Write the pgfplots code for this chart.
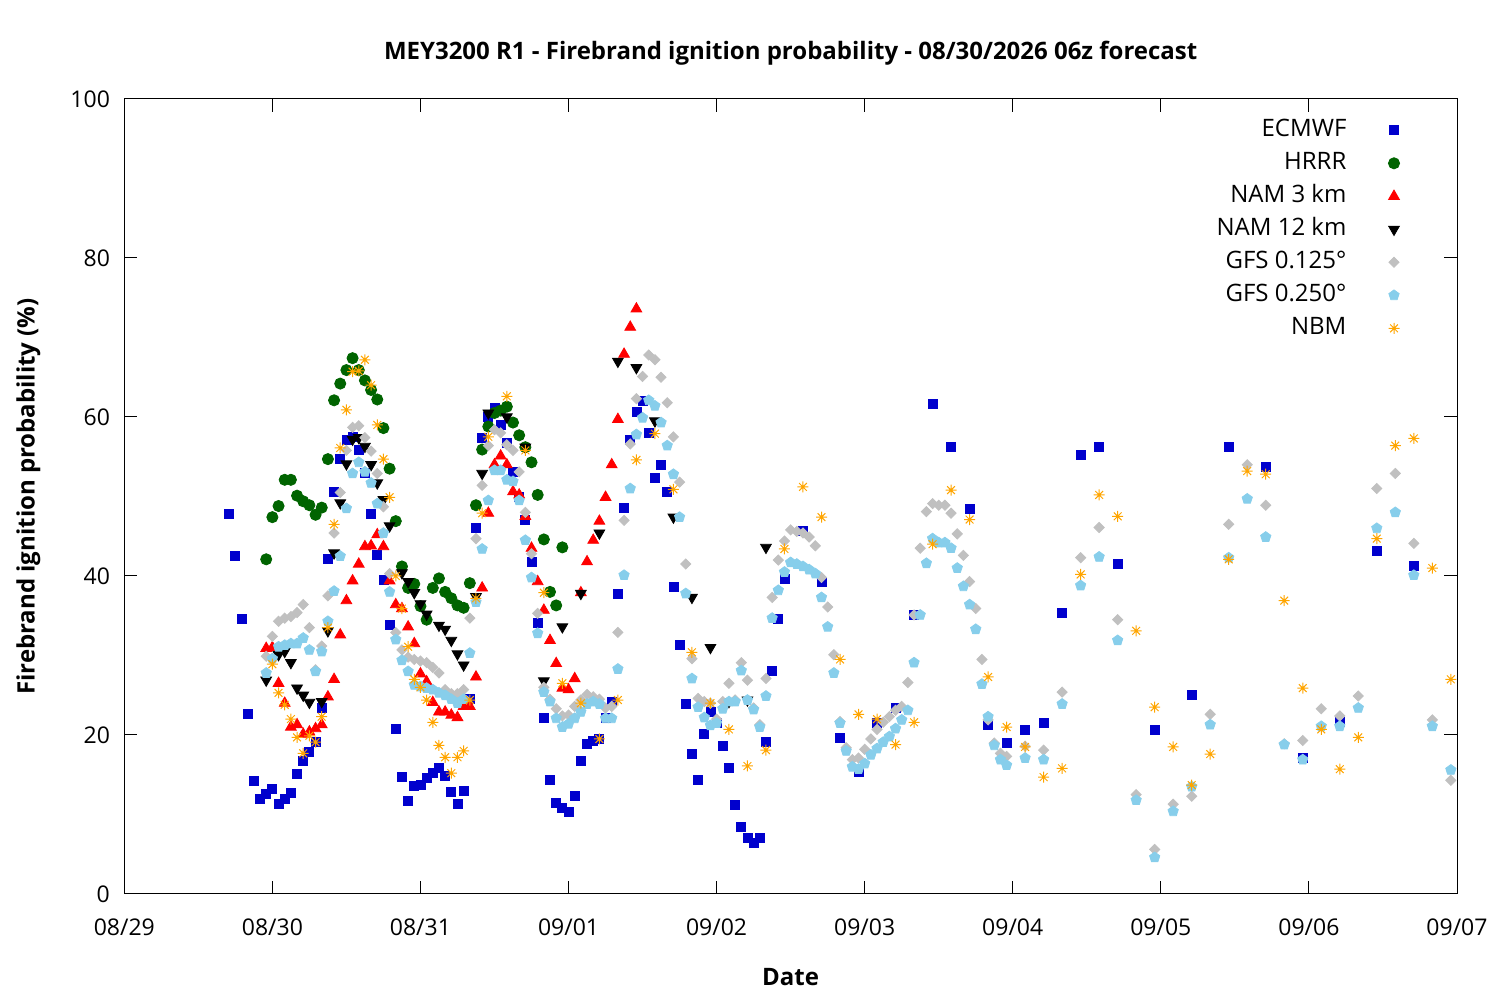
\documentclass[border=0pt]{standalone}
\usepackage{pgfplots}
\pgfplotsset{compat=1.18}
\usepackage{fontspec}
\setmainfont{Open Sans}
\definecolor{ecblue}{RGB}{0,0,205}
\definecolor{hrgreen}{RGB}{0,100,0}
\definecolor{gfsgrey}{RGB}{192,192,192}
\definecolor{gfsblue}{RGB}{135,206,235}
\definecolor{nbmorange}{RGB}{255,165,0}
\pgfdeclareplotmark{gpstar}{%
  \pgfpathmoveto{\pgfqpoint{-\pgfplotmarksize}{0pt}}\pgfpathlineto{\pgfqpoint{\pgfplotmarksize}{0pt}}%
  \pgfpathmoveto{\pgfqpoint{0pt}{-\pgfplotmarksize}}\pgfpathlineto{\pgfqpoint{0pt}{\pgfplotmarksize}}%
  \pgfpathmoveto{\pgfqpoint{-0.7071\pgfplotmarksize}{-0.7071\pgfplotmarksize}}\pgfpathlineto{\pgfqpoint{0.7071\pgfplotmarksize}{0.7071\pgfplotmarksize}}%
  \pgfpathmoveto{\pgfqpoint{-0.7071\pgfplotmarksize}{0.7071\pgfplotmarksize}}\pgfpathlineto{\pgfqpoint{0.7071\pgfplotmarksize}{-0.7071\pgfplotmarksize}}%
  \pgfusepathqstroke}
\begin{document}
\fontsize{11.5pt}{13pt}\selectfont
\begin{tikzpicture}[font=\fontsize{11.5pt}{13pt}\selectfont]
\path[use as bounding box] (-62.15pt,-53pt) rectangle (687.85pt,447pt);
\begin{axis}[
  scale only axis, width=666.35pt, height=397.5pt,
  xmin=0, xmax=216, ymin=0, ymax=100,
  xtick={0,24,48,72,96,120,144,168,192,216},
  xticklabels={08/29,08/30,08/31,09/01,09/02,09/03,09/04,09/05,09/06,09/07},
  ytick={0,20,40,60,80,100},
  tick align=inside, major tick length=6.5pt,
  axis line style={line width=0.5pt},
  tick style={line width=0.5pt, black},
  /pgf/number format/assume math mode=true,
  yticklabel style={anchor=east, inner sep=0pt, xshift=-7pt},
  xticklabel style={anchor=base, inner sep=0pt, yshift=-21pt},
  title={MEY3200 R1 - Firebrand ignition probability - 08/30/2026 06z forecast},
  title style={font=\fontsize{12pt}{14pt}\selectfont\bfseries, at={(axis description cs:0.5,1.0616)}, anchor=center, yshift=-7.5pt},
  xlabel={Date},
  xlabel style={font=\fontsize{12pt}{14pt}\selectfont\bfseries, at={(axis description cs:0.5,-0.1044)}, anchor=center, yshift=0pt},
  ylabel={Firebrand ignition probability (\%)},
  ylabel style={font=\fontsize{12pt}{14pt}\selectfont\bfseries, at={(axis description cs:-0.072,0.5)}, anchor=center, xshift=0pt, yshift=0pt},
  legend plot pos=right,
  legend cell align=right,
  legend style={draw=none, fill=none, inner sep=0pt, at={(axis description cs:1,1)}, anchor=north east, xshift=-28.5pt, yshift=-10.2pt,
    font=\fontsize{12pt}{14pt}\selectfont,
    nodes={text height=8.5pt, text depth=2pt, inner sep=0pt}, row sep=6pt,
    /tikz/every odd column/.append style={column sep=21pt}},
]
\addplot[only marks, mark=square*, mark size=2.25pt, color=ecblue] table {
x y
17 47.8
18 42.5
19 34.6
20 22.6
21 14.2
22 11.9
23 12.6
24 13.2
25 11.3
26 11.9
27 12.7
28 15.1
29 16.8
30 17.9
31 19.1
32 23.4
33 42.1
34 50.6
35 54.7
36 57.1
37 57.5
38 55.9
39 53.0
40 47.8
41 42.6
42 39.5
43 33.9
44 20.8
45 14.7
46 11.7
47 13.6
48 13.7
49 14.6
50 15.2
51 15.8
52 14.8
53 12.8
54 11.3
55 13.0
56 24.5
57 46.0
58 57.4
59 60.0
60 61.1
61 59.0
62 56.8
63 53.1
64 50.0
65 47.0
66 41.8
67 34.1
68 22.2
69 14.3
70 11.4
71 10.8
72 10.3
73 12.3
74 16.8
75 18.9
76 19.2
77 19.5
78 22.1
79 24.2
80 37.8
81 48.6
82 57.1
83 60.7
84 62.0
85 58.0
86 52.4
87 54.0
88 50.6
89 38.6
90 31.3
91 23.9
92 17.6
93 14.4
94 20.2
95 22.9
96 21.5
97 18.6
98 15.8
99 11.2
100 8.5
101 7.0
102 6.4
103 7.1
104 19.1
105 28.1
106 34.6
107 39.6
110 45.7
113 39.3
116 19.6
119 15.4
122 21.5
125 23.4
128 35.1
131 61.7
134 56.3
137 48.4
140 21.3
143 19.0
146 20.6
149 21.5
152 35.3
155 55.2
158 56.2
161 41.5
167 20.7
173 25.1
179 56.3
185 53.7
191 17.1
197 21.7
203 43.1
209 41.3
};
\addlegendentry{ECMWF}
\addplot[only marks, mark=*, mark size=2.8pt, color=hrgreen] table {
x y
23 42.1
24 47.4
25 48.8
26 52.1
27 52.1
28 50.1
29 49.4
30 48.9
31 47.7
32 48.6
33 54.7
34 62.1
35 64.2
36 65.9
37 67.4
38 65.9
39 64.6
40 63.4
41 62.2
42 58.6
43 53.5
44 46.9
45 41.2
46 38.5
47 39.0
48 36.2
49 34.5
50 38.5
51 39.7
52 38.0
53 37.2
54 36.3
55 36.0
56 39.1
57 48.9
58 55.9
59 58.8
60 60.5
61 60.8
62 61.3
63 59.3
64 57.7
65 56.2
66 54.3
67 50.2
68 44.6
69 38.0
70 36.3
71 43.6
};
\addlegendentry{HRRR}
\addplot[only marks, mark=triangle*, mark size=3.1pt, color=red] table {
x y
23 30.9
24 31.0
25 26.5
26 24.0
27 21.0
28 21.3
29 20.1
30 20.4
31 20.8
32 21.3
33 24.8
34 27.0
35 32.6
36 36.9
37 39.4
38 41.5
39 43.7
40 43.8
41 45.2
42 43.7
43 39.4
44 36.4
45 35.9
46 33.6
47 31.5
48 27.7
49 26.7
50 24.1
51 22.9
52 22.9
53 22.5
54 22.2
55 23.6
56 23.6
57 27.3
58 38.5
59 47.9
60 54.0
61 55.1
62 54.0
63 50.6
64 50.2
65 47.5
66 43.5
67 39.3
68 35.7
69 31.9
70 29.0
71 25.9
72 25.7
73 27.1
74 37.9
75 41.8
76 44.5
77 46.9
78 49.9
79 54.0
80 59.7
81 67.9
82 71.3
83 73.6
};
\addlegendentry{NAM 3 km}
\addplot[only marks, mark=triangle*, mark options={rotate=180}, mark size=3.1pt, color=black] table {
x y
23 26.9
25 30.1
26 30.5
27 29.1
28 25.9
29 25.0
30 24.1
32 24.2
33 33.1
34 42.9
35 49.2
36 54.1
37 57.2
38 57.4
39 56.3
40 54.0
41 51.7
42 49.6
43 46.3
45 40.4
46 39.3
47 37.9
48 36.5
49 35.2
51 33.8
52 33.3
53 31.9
54 30.2
55 28.8
57 37.4
58 52.9
59 60.5
62 60.0
65 56.2
68 26.8
71 33.6
74 37.8
77 45.4
80 67.0
83 66.2
86 59.5
89 47.4
92 37.3
95 31.0
98 24.2
101 24.4
104 43.6
};
\addlegendentry{NAM 12 km}
\addplot[only marks, mark=square*, mark options={rotate=45}, mark size=1.8pt, color=gfsgrey] table {
x y
23 29.9
24 32.4
25 34.3
26 34.7
27 34.9
28 35.4
29 36.4
30 33.5
31 28.2
32 31.2
33 37.5
34 45.4
35 50.5
36 55.8
37 58.7
38 58.9
39 57.4
40 55.7
41 52.9
42 48.7
43 40.3
44 32.9
45 30.7
46 29.8
47 29.5
48 29.3
49 29.1
50 28.5
51 27.8
52 25.7
53 25.2
54 25.2
55 25.7
56 34.7
57 44.7
58 51.4
59 56.4
60 58.4
61 58.0
62 56.5
63 55.8
64 53.1
65 48.0
66 42.8
67 35.3
68 26.0
69 24.5
70 23.3
71 22.4
72 22.5
73 23.6
74 24.4
75 25.1
76 24.8
77 24.5
78 23.4
79 23.6
80 32.9
81 47.0
82 56.6
83 62.3
84 65.1
85 67.8
86 67.2
87 65.0
88 61.8
89 57.5
90 51.8
91 41.5
92 29.6
93 24.6
94 24.2
95 24.0
96 22.0
97 24.2
98 26.5
99 24.4
100 29.1
101 26.9
102 23.4
103 21.3
104 27.1
105 37.3
106 42.0
107 44.4
108 45.8
109 45.6
110 45.4
111 44.9
112 43.8
113 39.8
114 36.1
115 30.1
116 21.7
117 18.4
118 16.9
119 17.1
120 18.2
121 19.5
122 20.7
123 21.6
124 22.3
125 23.1
126 23.6
127 26.6
128 35.1
129 43.5
130 48.1
131 49.1
132 48.9
133 48.9
134 47.9
135 45.3
136 42.6
137 39.3
138 35.9
139 29.5
140 21.9
141 19.0
142 17.7
143 17.3
146 18.6
149 18.1
152 25.4
155 42.3
158 46.1
161 34.5
164 12.5
167 5.6
170 11.3
173 12.3
176 22.6
179 46.5
182 54.0
185 48.9
188 18.9
191 19.3
194 23.3
197 22.4
200 24.9
203 51.0
206 52.9
209 44.1
212 21.9
215 14.3
};
\addlegendentry{GFS 0.125°}
\addplot[only marks, mark=pentagon*, mark size=2.7pt, color=gfsblue] table {
x y
23 27.8
24 29.6
25 31.1
26 31.3
27 31.5
28 31.5
29 32.2
30 30.7
31 28.0
32 30.5
33 34.3
34 38.1
35 42.5
36 48.5
37 52.9
38 54.3
39 53.1
40 51.7
41 49.1
42 45.4
43 38.0
44 32.0
45 29.4
46 28.0
47 26.3
48 26.1
49 25.9
50 25.7
51 25.3
52 25.0
53 24.5
54 24.0
55 24.5
56 30.3
57 36.7
58 43.4
59 49.5
60 53.3
61 53.3
62 52.1
63 51.9
64 49.5
65 44.5
66 39.8
67 32.8
68 25.4
69 24.2
70 22.1
71 21.0
72 21.4
73 22.1
74 22.9
75 23.9
76 24.2
77 23.9
78 22.1
79 22.1
80 28.3
81 40.1
82 51.0
83 57.8
84 59.9
85 62.1
86 61.4
87 59.3
88 56.4
89 52.8
90 47.4
91 37.8
92 27.1
93 23.5
94 22.2
95 21.2
96 21.5
97 23.3
98 24.2
99 24.2
100 28.1
101 24.4
102 23.2
103 21.0
104 24.9
105 34.7
106 38.2
107 40.5
108 41.7
109 41.5
110 41.2
111 40.8
112 40.3
113 37.3
114 33.6
115 27.8
116 21.5
117 18.0
118 16.0
119 15.7
120 16.4
121 17.5
122 18.3
123 19.1
124 19.8
125 20.8
126 21.9
127 23.1
128 29.1
129 35.1
130 41.6
131 44.7
132 44.2
133 44.2
134 43.5
135 41.0
136 38.7
137 36.4
138 33.3
139 26.4
140 22.3
141 18.7
142 16.9
143 16.2
146 17.1
149 16.9
152 23.9
155 38.8
158 42.4
161 31.9
164 11.8
167 4.6
170 10.4
173 13.5
176 21.3
179 42.3
182 49.7
185 44.9
188 18.8
191 16.9
194 21.1
197 21.1
200 23.4
203 46.0
206 48.0
209 40.1
212 21.1
215 15.6
};
\addlegendentry{GFS 0.250°}
\addplot[only marks, mark=gpstar, mark size=2.75pt, line width=0.5pt, color=nbmorange] table {
x y
24 28.9
25 25.3
26 23.8
27 22.0
28 19.7
29 17.7
30 19.9
31 19.1
32 22.3
33 33.5
34 46.5
35 56.1
36 60.9
37 65.7
38 65.8
39 67.2
40 64.0
41 59.0
42 54.7
43 49.9
44 40.0
45 35.9
46 31.1
47 27.0
48 26.0
49 24.4
50 21.6
51 18.7
52 17.2
53 15.2
54 17.2
55 18.0
56 24.4
57 37.2
58 47.9
59 57.5
62 62.6
65 55.8
68 37.9
71 26.5
74 24.0
77 19.5
80 24.4
83 54.6
86 57.9
89 50.9
92 30.4
95 24.0
98 20.7
101 16.1
104 18.1
107 43.4
110 51.2
113 47.4
116 29.5
119 22.6
122 22.0
125 18.8
128 21.6
131 44.0
134 50.8
137 47.1
140 27.3
143 21.0
146 18.5
149 14.7
152 15.8
155 40.2
158 50.2
161 47.5
164 33.1
167 23.5
170 18.5
173 13.7
176 17.6
179 42.1
182 53.2
185 52.8
188 36.9
191 25.9
194 20.7
197 15.7
200 19.7
203 44.7
206 56.4
209 57.3
212 41.0
215 27.0
};
\addlegendentry{NBM}
\end{axis}
\end{tikzpicture}
\end{document}
